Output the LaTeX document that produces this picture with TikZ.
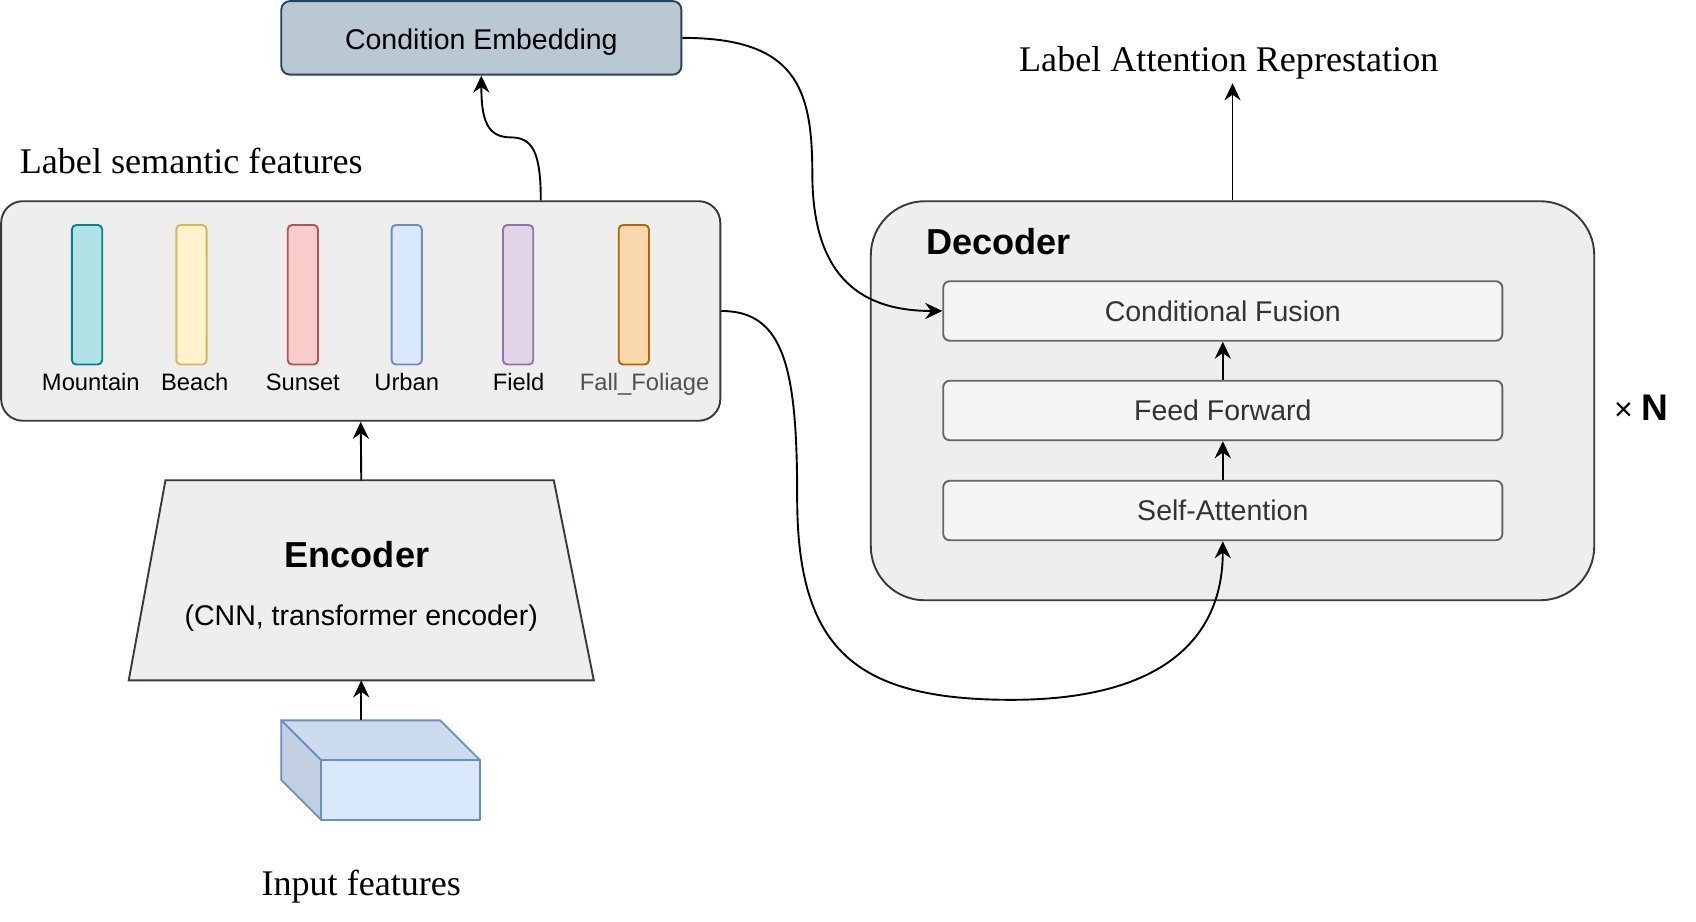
\documentclass[tikz,border=0pt]{standalone}
\usepackage{fontspec}
\setmainfont{Liberation Sans}
\newfontfamily\serifface{Liberation Serif}
\usepackage{tikz}
\usetikzlibrary{calc}
\usetikzlibrary{arrows.meta}
\usetikzlibrary{shapes.geometric}
\usetikzlibrary{positioning}

\definecolor{cefill}{HTML}{BAC8D3}
\definecolor{cedraw}{HTML}{23445D}
\definecolor{panelfill}{HTML}{EEEEEE}
\definecolor{paneldraw}{HTML}{36393D}
\definecolor{layerfill}{HTML}{F5F5F5}
\definecolor{layerdraw}{HTML}{666666}
\definecolor{layertext}{HTML}{333333}
\definecolor{tealfill}{HTML}{B0E3E6}
\definecolor{tealdraw}{HTML}{0E8088}
\definecolor{yellowfill}{HTML}{FFF2CC}
\definecolor{yellowdraw}{HTML}{D6B656}
\definecolor{redfill}{HTML}{F8CECC}
\definecolor{reddraw}{HTML}{B85450}
\definecolor{bluefill}{HTML}{DAE8FC}
\definecolor{bluedraw}{HTML}{6C8EBF}
\definecolor{purplefill}{HTML}{E1D5E7}
\definecolor{purpledraw}{HTML}{9673A6}
\definecolor{orangefill}{HTML}{FAD7AC}
\definecolor{orangedraw}{HTML}{B46504}
\definecolor{falltext}{HTML}{505050}
\definecolor{cubetopfill}{HTML}{CCDAEE}
\definecolor{cubesidefill}{HTML}{C3CFE2}

\tikzset{>={Stealth[length=9pt,width=8.5pt,inset=3pt]}}
\tikzstyle{panel} = [rectangle, draw=paneldraw, fill=panelfill, line width=1pt]
\tikzstyle{layerbox} = [rectangle, rounded corners=0.12cm, draw=layerdraw, fill=layerfill, text=layertext, line width=1pt, minimum width=10.34cm, minimum height=1.1cm, font=\fontsize{15}{18}\selectfont]
\tikzstyle{bar} = [rectangle, rounded corners=0.08cm, line width=1pt, minimum width=0.56cm, minimum height=2.58cm, inner sep=0]
\tikzstyle{barlabel} = [font=\fontsize{12.5}{15}\selectfont, inner sep=0, anchor=base]
\tikzstyle{caption} = [font=\serifface\fontsize{19}{23}\selectfont, inner sep=0]
\tikzstyle{conn} = [->, line width=1pt]

\begin{document}
\begin{tikzpicture}[x=0.02cm, y=-0.02cm]
\useasboundingbox (0,0) rectangle (1568,852);

% condition embedding
\node [rectangle, rounded corners=0.16cm, draw=cedraw, fill=cefill, line width=1pt, minimum width=7.4cm, minimum height=1.36cm, text height=1.2em, text depth=0pt, font=\fontsize{15}{18}\selectfont] (CE) at (445, 35) {Condition Embedding};

% label semantic features
\node [caption, anchor=base west] (LStitle) at (18, 160) {Label semantic features};
\node [panel, rounded corners=0.4cm, minimum width=13.3cm, minimum height=4.06cm] (LS) at (333.5, 287.5) {};
\foreach \bx/\lx/\key/\txt/\fc/\dc/\tc in {80.5/84/Mountain/Mountain/tealfill/tealdraw/black,
    177/180/Beach/Beach/yellowfill/yellowdraw/black,
    280/280/Sunset/Sunset/redfill/reddraw/black,
    376/376/Urban/Urban/bluefill/bluedraw/black,
    479/479.5/Field/Field/purplefill/purpledraw/black,
    586/596/Fall/Fall\_Foliage/orangefill/orangedraw/falltext}
  {
  \node [bar, fill=\fc, draw=\dc] (bar-\key) at (\bx, 272.5) {};
  \node [barlabel, text=\tc] (lab-\key) at (\lx, 361) {\txt};
  }

% encoder
\filldraw [draw=paneldraw, fill=panelfill, line width=1pt] (153,444) -- (512,444) -- (549,629) -- (119,629) -- cycle;
\coordinate (enctop) at (334,444);
\coordinate (encbottom) at (334,629);
\node [font=\fontsize{19}{22}\selectfont\bfseries, anchor=base] (enctitle) at (330, 525) {Encoder};
\node [font=\fontsize{15}{18}\selectfont, anchor=base] (encsub) at (334, 578) {(CNN, transformer encoder)};

% input cube
\filldraw [fill=cubetopfill, draw=bluedraw, line width=1pt, line join=round] (260,666) -- (407,666) -- (444,703) -- (297,703) -- cycle;
\filldraw [fill=cubesidefill, draw=bluedraw, line width=1pt, line join=round] (260,666) -- (297,703) -- (297,758) -- (260,721) -- cycle;
\filldraw [fill=bluefill, draw=bluedraw, line width=1pt, line join=round] (297,703) rectangle (444,758);
\coordinate (cubetop) at (334,666);
\node [caption, anchor=base] (INtitle) at (334, 828) {Input features};

% decoder
\node [panel, rounded corners=1cm, minimum width=13.38cm, minimum height=7.38cm] (DEC) at (1139.5, 370.5) {};
\node [font=\fontsize{19}{22}\selectfont\bfseries, anchor=base west, inner sep=0] (dectitle) at (856, 235) {Decoder};
\node [layerbox] (CF) at (1130.5, 287.5) {Conditional Fusion};
\node [layerbox] (FF) at (1130.5, 379.5) {Feed Forward};
\node [layerbox] (SA) at (1130.5, 472) {Self-Attention};
\node [anchor=base west, inner sep=0] (times) at (1492, 389) {{\fontsize{17}{18}\selectfont ×}\hspace{0.45em}{\fontsize{19.5}{22}\selectfont\bfseries N}};
\node [caption, anchor=base, inner sep=2pt] (LA) at (1136, 66) {Label Attention Represtation};

% connectors
\draw [conn] (cubetop) -- (encbottom);
\draw [conn] (enctop) -- (LS.south);
\draw [conn] ([xshift=3.33cm]LS.north) .. controls (500,140) and (492,127) .. (472,127) .. controls (450,127) and (445,110) .. (CE.south);
\draw [conn] (CE.east) .. controls (735,35) and (751,80) .. (751,160) .. controls (751,250) and (790,287.5) .. (CF.west);
\draw [conn] (LS.east) .. controls (725,287.5) and (737,340) .. (737,460) .. controls (737,600) and (790,647) .. (935,647) .. controls (1075,647) and (1130.5,590) .. (SA.south);
\draw [conn] (FF.north) -- (CF.south);
\draw [conn] (SA.north) -- (FF.south);
\draw [conn] (DEC.north) -- (DEC.north |- LA.south);
\end{tikzpicture}
\end{document}
